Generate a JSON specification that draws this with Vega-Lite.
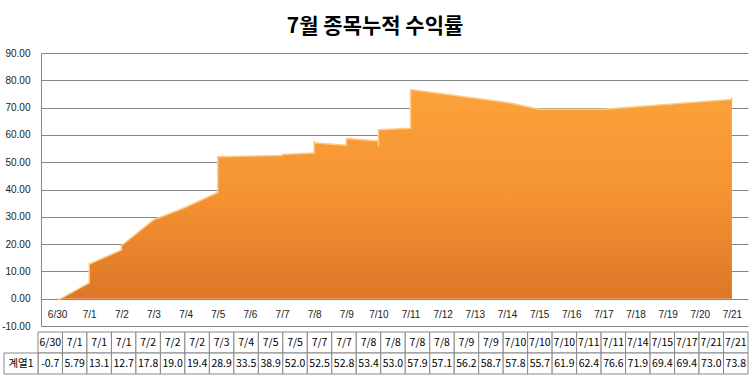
{
  "$schema": "https://vega.github.io/schema/vega-lite/v6.json",
  "padding": {"left": 1, "top": 16, "right": 6, "bottom": 10},
  "background": "white",
  "title": {"text": "7월 종목누적 수익률", "font": "Noto Sans CJK KR", "fontSize": 21, "fontWeight": "bold", "color": "#000000", "offset": 11, "anchor": "middle"},
  "config": {
    "view": {"stroke": null},
    "locale": {"number": {"decimal": ".", "thousands": ",", "grouping": [3], "currency": ["$", ""], "minus": "-"}},
    "concat": {"spacing": 0}
  },
  "datasets": {
    "rows": [
      {"i": 1, "date": "2014-06-30T00:00", "v": -0.7},
      {"i": 2, "date": "2014-07-01T00:00", "v": 5.79},
      {"i": 3, "date": "2014-07-01T00:00", "v": 13.1},
      {"i": 4, "date": "2014-07-01T00:00", "v": 12.7},
      {"i": 5, "date": "2014-07-02T00:00", "v": 17.8},
      {"i": 6, "date": "2014-07-02T00:00", "v": 19.0},
      {"i": 7, "date": "2014-07-02T00:00", "v": 19.4},
      {"i": 8, "date": "2014-07-03T00:00", "v": 28.9},
      {"i": 9, "date": "2014-07-04T00:00", "v": 33.5},
      {"i": 10, "date": "2014-07-05T00:00", "v": 38.9},
      {"i": 11, "date": "2014-07-05T00:00", "v": 52.0},
      {"i": 12, "date": "2014-07-07T00:00", "v": 52.5},
      {"i": 13, "date": "2014-07-07T00:00", "v": 52.8},
      {"i": 14, "date": "2014-07-08T00:00", "v": 53.4},
      {"i": 15, "date": "2014-07-08T00:00", "v": 53.0},
      {"i": 16, "date": "2014-07-08T00:00", "v": 57.9},
      {"i": 17, "date": "2014-07-08T00:00", "v": 57.1},
      {"i": 18, "date": "2014-07-09T00:00", "v": 56.2},
      {"i": 19, "date": "2014-07-09T00:00", "v": 58.7},
      {"i": 20, "date": "2014-07-10T00:00", "v": 57.8},
      {"i": 21, "date": "2014-07-10T00:00", "v": 55.7},
      {"i": 22, "date": "2014-07-10T00:00", "v": 61.9},
      {"i": 23, "date": "2014-07-11T00:00", "v": 62.4},
      {"i": 24, "date": "2014-07-11T00:00", "v": 76.6},
      {"i": 25, "date": "2014-07-14T00:00", "v": 71.9},
      {"i": 26, "date": "2014-07-15T00:00", "v": 69.4},
      {"i": 27, "date": "2014-07-17T00:00", "v": 69.4},
      {"i": 28, "date": "2014-07-21T00:00", "v": 73.0},
      {"i": 29, "date": "2014-07-21T00:00", "v": 73.8}
    ]
  },
  "vconcat": [
    {
      "width": 707,
      "height": 273,
      "data": {"name": "rows"},
      "encoding": {
        "x": {
          "field": "date", "type": "temporal",
          "scale": {"domain": [{"year": 2014, "month": 6, "date": 29, "hours": 12}, {"year": 2014, "month": 7, "date": 21, "hours": 12}]},
          "axis": {"format": "%-m/%-d", "tickCount": {"interval": "day", "step": 1}, "offset": -27, "domain": false, "ticks": false, "grid": false, "labelPadding": 10, "labelFont": "Liberation Sans", "labelFontSize": 10, "labelColor": "#222222", "title": null, "labelOverlap": false, "labelFlush": false}
        },
        "y": {
          "field": "v", "type": "quantitative", "stack": null,
          "scale": {"domain": [-10, 90], "nice": false},
          "axis": {"values": [-10, 0, 10, 20, 30, 40, 50, 60, 70, 80, 90], "format": ".2f", "title": null, "ticks": false, "domain": true, "domainColor": "#868686", "grid": true, "gridColor": "#868686", "labelPadding": 11, "labelFont": "Liberation Sans", "labelFontSize": 10, "labelColor": "#222222", "minExtent": 39, "maxExtent": 39}
        }
      },
      "layer": [
        {
          "mark": {
            "type": "area",
            "color": {"gradient": "linear", "x1": 0, "y1": 0, "x2": 0, "y2": 1, "stops": [{"offset": 0, "color": "#FBA23A"}, {"offset": 0.5, "color": "#F59332"}, {"offset": 1, "color": "#DC7627"}]}
          }
        },
        {
          "mark": {"type": "line", "stroke": "#FDCB88", "strokeWidth": 1.5},
          "encoding": {"order": {"field": "i", "type": "quantitative"}}
        }
      ]
    },
    {
      "width": 707,
      "height": 42,
      "data": {"name": "rows"},
      "resolve": {"scale": {"x": "independent"}},
      "layer": [
        {
          "mark": {"type": "rect", "fill": "white", "stroke": "#888888", "strokeWidth": 1},
          "encoding": {
            "x": {"field": "i", "type": "ordinal", "axis": null, "scale": {"range": [-3, 707], "paddingInner": 0, "paddingOuter": 0}},
            "y": {"datum": "d", "type": "nominal", "axis": null, "scale": {"domain": ["d", "v"], "paddingInner": 0, "paddingOuter": 0}}
          }
        },
        {
          "mark": {"type": "rect", "fill": "white", "stroke": "#888888", "strokeWidth": 1},
          "encoding": {
            "x": {"field": "i", "type": "ordinal", "axis": null, "scale": {"range": [-3, 707], "paddingInner": 0, "paddingOuter": 0}},
            "y": {"datum": "v", "type": "nominal", "axis": null}
          }
        },
        {
          "mark": {"type": "text", "font": "Noto Sans CJK KR", "fontSize": 10.5, "color": "#000000"},
          "encoding": {
            "x": {"field": "i", "type": "ordinal", "axis": null, "scale": {"range": [-3, 707], "paddingInner": 0, "paddingOuter": 0}},
            "y": {"datum": "d", "type": "nominal", "axis": null},
            "text": {"field": "date", "type": "temporal", "format": "%-m/%-d"}
          }
        },
        {
          "mark": {"type": "text", "font": "Noto Sans CJK KR", "fontSize": 10.5, "color": "#000000"},
          "encoding": {
            "x": {"field": "i", "type": "ordinal", "axis": null, "scale": {"range": [-3, 707], "paddingInner": 0, "paddingOuter": 0}},
            "y": {"datum": "v", "type": "nominal", "axis": null},
            "text": {"condition": {"test": "abs(datum.v) < 1", "field": "v", "type": "quantitative", "format": ".1f"}, "field": "v", "type": "quantitative", "format": ".3r"}
          }
        },
        {
          "data": {"values": [{"s": "계열1"}]},
          "mark": {"type": "rect", "fill": "white", "stroke": "#888888", "strokeWidth": 1},
          "encoding": {
            "x": {"field": "s", "type": "nominal", "axis": null, "scale": {"range": [-37, -3], "paddingInner": 0, "paddingOuter": 0}},
            "y": {"datum": "v", "type": "nominal", "axis": null}
          }
        },
        {
          "data": {"values": [{"s": "계열1"}]},
          "mark": {"type": "text", "font": "Noto Sans CJK KR", "fontSize": 10.5, "color": "#000000"},
          "encoding": {
            "x": {"field": "s", "type": "nominal", "axis": null, "scale": {"range": [-37, -3], "paddingInner": 0, "paddingOuter": 0}},
            "y": {"datum": "v", "type": "nominal", "axis": null},
            "text": {"field": "s", "type": "nominal"}
          }
        }
      ]
    }
  ]
}
